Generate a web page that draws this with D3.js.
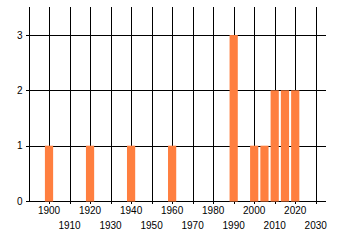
<!DOCTYPE html>
<html>
<head>
<meta charset="utf-8">
<script src="https://cdn.jsdelivr.net/npm/d3@7"></script>
<style>
  body { margin: 0; background: #fff; }
  svg { display: block; }
  text { font-family: "Liberation Sans", Arial, sans-serif; font-size: 10px; fill: #000; }
</style>
</head>
<body>
<div id="chart"></div>
<script>
const years = [1900, 1920, 1940, 1960, 1990, 2000, 2005, 2010, 2015, 2020];
const counts = [1, 1, 1, 1, 3, 1, 1, 2, 2, 2];
const xTicks = [1900, 1910, 1920, 1930, 1940, 1950, 1960, 1970, 1980, 1990, 2000, 2010, 2020, 2030];
const yTicks = [0, 1, 2, 3];

const width = 340, height = 245;
const plotLeft = 28.5, plotRight = 326, plotTop = 7.4, plotBottom = 201;

const svg = d3.select('#chart').append('svg')
  .attr('width', width)
  .attr('height', height);

const x = d3.scaleLinear().domain([1890, 2035]).range([plotLeft, plotRight]);
const y = d3.scaleLinear().domain([0, 3.5]).range([plotBottom, plotTop]);
const px = v => Math.round(v) + 0.5;

// horizontal grid lines (with small ticks left of the axis)
svg.append('g')
  .selectAll('line')
  .data(yTicks)
  .enter().append('line')
  .attr('x1', 26).attr('x2', plotRight)
  .attr('y1', d => px(y(d))).attr('y2', d => px(y(d)))
  .attr('stroke', '#000');

// vertical grid lines (with small ticks below the axis)
svg.append('g')
  .selectAll('line')
  .data(xTicks)
  .enter().append('line')
  .attr('x1', d => px(x(d))).attr('x2', d => px(x(d)))
  .attr('y1', 7).attr('y2', 204)
  .attr('stroke', '#000');

// left axis line
svg.append('line')
  .attr('x1', px(plotLeft)).attr('x2', px(plotLeft))
  .attr('y1', 7).attr('y2', px(plotBottom))
  .attr('stroke', '#000');

// bars
svg.append('g')
  .selectAll('rect')
  .data(years)
  .enter().append('rect')
  .attr('x', d => x(d - 2))
  .attr('width', d => x(d + 2) - x(d - 2))
  .attr('y', (d, i) => y(counts[i]))
  .attr('height', (d, i) => y(0) - y(counts[i]) + 0.5)
  .attr('fill', '#ff7f3f');

// y labels
svg.append('g')
  .selectAll('text')
  .data(yTicks)
  .enter().append('text')
  .attr('x', 22.5)
  .attr('y', d => y(d) + 3.6)
  .attr('text-anchor', 'end')
  .text(d => d);

// x labels, alternating rows
svg.append('g')
  .selectAll('text')
  .data(xTicks)
  .enter().append('text')
  .attr('x', d => x(d))
  .attr('y', (d, i) => i % 2 === 0 ? 214 : 229)
  .attr('text-anchor', 'middle')
  .text(d => d);
</script>
</body>
</html>
